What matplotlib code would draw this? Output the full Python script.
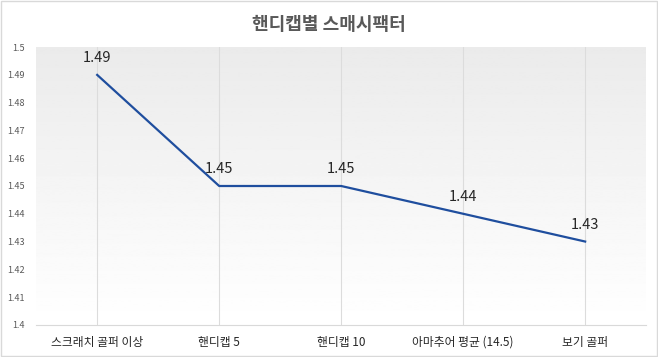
import matplotlib
matplotlib.use("Agg")
import matplotlib.pyplot as plt
import numpy as np
from matplotlib.patches import Rectangle

plt.rcParams["font.family"] = ["Noto Sans CJK KR", "DejaVu Sans"]

categories = ["스크래치 골퍼 이상", "핸디캡 5", "핸디캡 10", "아마추어 평균 (14.5)", "보기 골퍼"]
smash_factor = [1.49, 1.45, 1.45, 1.44, 1.43]
y_ticks = [1.4, 1.41, 1.42, 1.43, 1.44, 1.45, 1.46, 1.47, 1.48, 1.49, 1.5]

fig = plt.figure(figsize=(6.58, 3.57), dpi=100)
fig.patches.append(Rectangle((0.002, 0.003), 0.996, 0.994, transform=fig.transFigure,
                             fill=False, edgecolor="#d9d9d9", linewidth=1))
ax = fig.add_axes([0.055, 0.09, 0.927, 0.778])

x = np.arange(len(categories))
ax.set_xlim(-0.5, len(categories) - 0.5)
ax.set_ylim(1.4, 1.5)

# gradient background of the plot area
grad = np.linspace(1.0, 0.92, 256).reshape(-1, 1)
ax.imshow(grad, extent=[-0.5, len(categories) - 0.5, 1.5, 1.4], aspect="auto",
          cmap="gray", vmin=0, vmax=1, origin="upper", zorder=0)

for xi in x:
    ax.axvline(xi, color="#dcdcdc", linewidth=0.8, zorder=1)

ax.plot(x, smash_factor, color="#1f4e9e", linewidth=1.6, zorder=3)
for xi, v in zip(x, smash_factor):
    ax.annotate(f"{v:.2f}", (xi, v), xytext=(0, 7), textcoords="offset points",
                ha="center", va="bottom", fontsize=10.5, color="#262626", zorder=4)

ax.set_xticks(x)
ax.set_xticklabels(categories, fontsize=8.5, color="#262626")
ax.set_yticks(y_ticks)
ax.set_yticklabels([f"{t:g}" for t in y_ticks], fontsize=6.5, color="#595959")
ax.tick_params(axis="both", length=0)
ax.tick_params(axis="x", pad=8)
ax.tick_params(axis="y", pad=8)
for side in ["top", "right", "left"]:
    ax.spines[side].set_visible(False)
ax.spines["bottom"].set_color("#d9d9d9")

fig.text(0.5, 0.93, "핸디캡별 스매시팩터", ha="center", va="center",
         fontsize=13, fontweight="bold", color="#595959")

fig.savefig("out.png", dpi=100)
